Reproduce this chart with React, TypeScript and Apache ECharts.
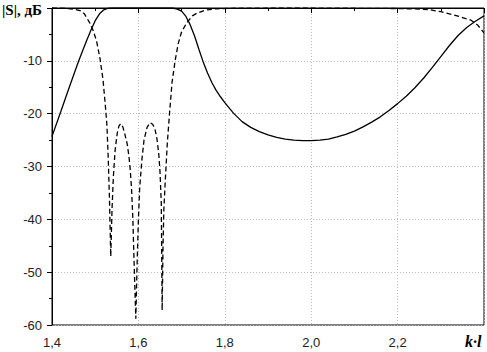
import React, { useEffect, useRef } from "react";
import * as echarts from "echarts";

const solidX = [1.40, 1.42, 1.44, 1.46, 1.47, 1.48, 1.49, 1.50, 1.51, 1.52, 1.53, 1.54, 1.60, 1.68, 1.69, 1.70, 1.71, 1.72, 1.73, 1.74, 1.75, 1.76, 1.77, 1.78, 1.79, 1.80, 1.82, 1.84, 1.86, 1.88, 1.90, 1.92, 1.94, 1.96, 1.98, 2.00, 2.02, 2.04, 2.06, 2.08, 2.10, 2.12, 2.14, 2.16, 2.18, 2.20, 2.22, 2.24, 2.26, 2.28, 2.30, 2.32, 2.34, 2.36, 2.38, 2.40];
const solidY = [-24.3, -19.7, -15.0, -10.4, -8.3, -6.2, -4.2, -2.4, -1.1, -0.35, -0.05, 0, 0, 0, -0.2, -0.6, -1.6, -3.2, -5.3, -7.8, -10.2, -12.3, -14.1, -15.6, -16.8, -17.9, -19.9, -21.5, -22.6, -23.4, -24.0, -24.5, -24.8, -25.0, -25.1, -25.1, -25.0, -24.8, -24.4, -23.9, -23.3, -22.5, -21.6, -20.6, -19.4, -18.1, -16.7, -15.1, -13.3, -11.3, -9.2, -7.1, -5.2, -3.7, -2.5, -1.5];

const dashX = [1.40, 1.43, 1.45, 1.465, 1.475, 1.488, 1.495, 1.503, 1.511, 1.518, 1.523, 1.527, 1.530, 1.533, 1.536, 1.539, 1.542, 1.546, 1.551, 1.555, 1.559, 1.564, 1.569, 1.574, 1.578, 1.581, 1.584, 1.587, 1.590, 1.594, 1.597, 1.600, 1.603, 1.608, 1.613, 1.620, 1.627, 1.633, 1.638, 1.643, 1.647, 1.650, 1.653, 1.655, 1.657, 1.659, 1.662, 1.667, 1.672, 1.678, 1.685, 1.692, 1.700, 1.712, 1.725, 1.735, 1.755, 1.78, 1.82, 1.9, 2.0, 2.1, 2.2, 2.25, 2.275, 2.30, 2.33, 2.35, 2.37, 2.385, 2.40];
const dashY = [0, -0.05, -0.2, -0.5, -1.1, -2.9, -4.2, -6.2, -9.5, -13.5, -18, -22, -28, -36, -47, -38, -32, -27, -23.7, -22.3, -21.9, -22.5, -24, -25.7, -28, -30.5, -34, -39.5, -48, -58.8, -48.5, -40, -34, -28.8, -25, -22.6, -21.7, -22, -22.8, -24.8, -27.5, -31, -37, -57.2, -45, -38, -33, -25.5, -20, -14, -10, -6.8, -4.5, -2.8, -1.5, -1.0, -0.4, -0.15, -0.05, 0, 0, -0.05, -0.1, -0.2, -0.35, -0.7, -1.3, -1.8, -2.3, -3.2, -4.7];

const xTicks = ["1,4", "1,6", "1,8", "2,0", "2,2", ""];
const yLabelName = "|S|, дБ";
const xLabelName = "k·l";

export default function App() {
  const ref = useRef<HTMLDivElement>(null);
  useEffect(() => {
    if (!ref.current) return;
    const chart = echarts.init(ref.current, null, { renderer: "svg" });
    const solid = solidX.map((x, i) => [x, solidY[i]]);
    const dashed = dashX.map((x, i) => [x, dashY[i]]);
    const labelStyle = { color: "#222", fontFamily: "Liberation Sans", fontSize: 13 };
    chart.setOption({
      animation: false,
      backgroundColor: "#fff",
      grid: { left: 52, right: 3, top: 8, bottom: 27, show: true, borderColor: "#000", borderWidth: 1, backgroundColor: "transparent" },
      xAxis: {
        type: "value",
        min: 1.4,
        max: 2.4,
        interval: 0.2,
        axisLine: { show: true, lineStyle: { color: "#000", width: 1 } },
        axisTick: { show: true, length: 5, lineStyle: { color: "#000" } },
        minorTick: { show: true, splitNumber: 2, length: 3, lineStyle: { color: "#000" } },
        splitLine: { show: true, lineStyle: { color: "#bbbbbb", type: [1, 2], width: 1 } },
        axisLabel: {
          ...labelStyle,
          margin: 11,
          formatter: (v: number) => {
            const idx = Math.round((v - 1.4) / 0.2);
            return xTicks[idx] ?? "";
          },
        },
      },
      yAxis: {
        type: "value",
        min: -60,
        max: 0,
        interval: 10,
        axisLine: { show: true, lineStyle: { color: "#000", width: 1 } },
        axisTick: { show: true, length: 5, lineStyle: { color: "#000" } },
        minorTick: { show: true, splitNumber: 2, length: 3, lineStyle: { color: "#000" } },
        splitLine: { show: true, lineStyle: { color: "#bbbbbb", type: [1, 2], width: 1 } },
        axisLabel: {
          ...labelStyle,
          margin: 10,
          formatter: (v: number) => (v === 0 ? "" : String(v)),
        },
      },
      graphic: [
        {
          type: "text",
          left: 2,
          top: 2,
          style: { text: yLabelName, font: "bold 15px 'Liberation Serif'", fill: "#000" },
        },
        {
          type: "text",
          left: 465,
          top: 333,
          style: { text: xLabelName, font: "italic bold 16px 'Liberation Serif'", fill: "#000" },
        },
      ],
      series: [
        {
          type: "line",
          data: solid,
          showSymbol: false,
          smooth: false,
          lineStyle: { color: "#000", width: 1.3 },
        },
        {
          type: "line",
          data: dashed,
          showSymbol: false,
          smooth: false,
          lineStyle: { color: "#000", width: 1.3, type: [5, 3] },
        },
      ],
    });
    return () => chart.dispose();
  }, []);
  return (
    <div
      ref={ref}
      style={{ position: "fixed", left: 0, top: 0, width: 487, height: 352, background: "#fff" }}
    />
  );
}
